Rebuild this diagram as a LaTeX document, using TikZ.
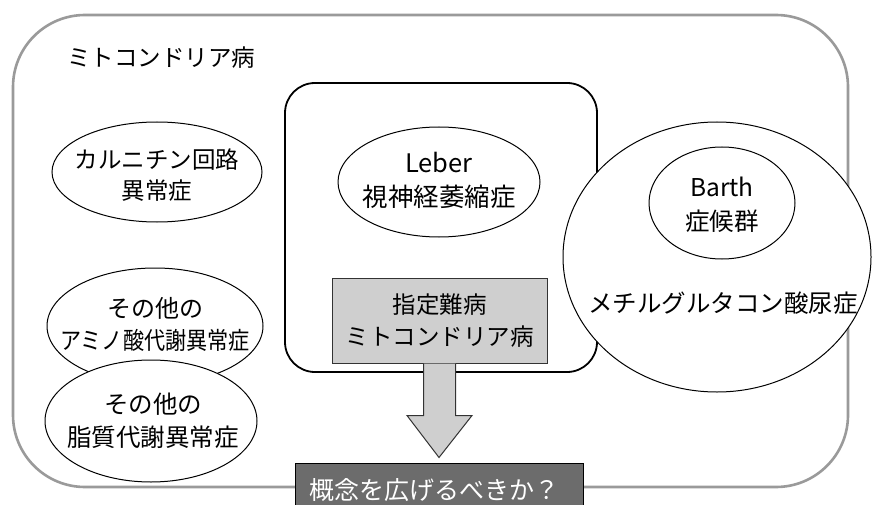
\documentclass[tikz,border=0pt]{standalone}
\usepackage{fontspec}
\usepackage{graphicx}
\setmainfont{Noto Sans CJK JP}
\usetikzlibrary{shapes.geometric,calc}
\definecolor{outergray}{HTML}{9A9A9A}
\definecolor{boxgray}{HTML}{CFCFCF}
\definecolor{darkbox}{HTML}{6C6C6C}
\begin{document}
\begin{tikzpicture}[x=1pt,y=-1pt,
  oval/.style={ellipse,draw=black,line width=1pt,fill=white,inner sep=0pt,outer sep=0pt},
  lbl/.style={inner sep=0pt,align=center,font=\fontsize{23.5}{31}\selectfont}]
\useasboundingbox (0,0) rectangle (872,505);
\clip (0,0) rectangle (872,505);
\fill[white] (0,0) rectangle (872,505);
% outer box
\node[draw=outergray,line width=2.6pt,rounded corners=72pt,minimum width=835pt,minimum height=472pt,inner sep=0pt]
  (outer) at (430.5,251) {};
\node[lbl,anchor=west] (title) at (67,58) {ミトコンドリア病};
% left ellipses
\node[oval,minimum width=210pt,minimum height=100pt] (carn) at (157,172) {};
\node[lbl] (carnt) at (157,175) {カルニチン回路\\異常症};
\node[oval,minimum width=216pt,minimum height=116pt] (amino) at (155,326) {};
\node[lbl,font=\fontsize{24}{32}\selectfont] (aminot) at (155,324) {その他の\\\scalebox{0.88}[1]{アミノ酸代謝異常症}};
\node[oval,minimum width=212pt,minimum height=122pt] (lipid) at (151,421) {};
\node[lbl,font=\fontsize{24.5}{33}\selectfont] (lipidt) at (153,421) {その他の\\脂質代謝異常症};
% inner box
\node[draw=black,line width=1.8pt,rounded corners=30pt,minimum width=312pt,minimum height=289pt,inner sep=0pt]
  (inner) at (441,227.5) {};
\node[oval,minimum width=202pt,minimum height=110pt] (leber) at (439,182) {};
\node[lbl,font=\fontsize{25.5}{34}\selectfont] (lebert) at (439,180) {Leber\\視神経萎縮症};
% big circle
\node[oval,minimum width=308pt,minimum height=270pt] (big) at (717,257) {};
\node[oval,minimum width=146pt,minimum height=112pt] (barth) at (722,203) {};
\node[lbl,font=\fontsize{24.5}{34}\selectfont] (bartht) at (722,205) {Barth\\症候群};
\node[lbl,font=\fontsize{24.5}{30}\selectfont] (methyl) at (723,303) {メチルグルタコン酸尿症};
% bottom box
\node[fill=darkbox,draw=black,line width=1pt,minimum width=288pt,minimum height=50pt,inner sep=0pt] (question) at (439,488) {};
\node[lbl,text=white,font=\fontsize{25}{30}\selectfont] (questiont) at (434,490) {概念を広げるべきか？};
% gray box
\node[fill=boxgray,draw=black!80,line width=1pt,minimum width=215pt,minimum height=85pt,inner sep=0pt,
  align=center,font=\fontsize{23.5}{32}\selectfont] (nanbyo) at (439.5,320.5) {指定難病\\ミトコンドリア病};
% block arrow
\draw[fill=boxgray,draw=black!80,line width=1pt]
  ($(nanbyo.south)+(-16,0)$) -- ($(nanbyo.south)+(-16,52)$) -- ($(nanbyo.south)+(-32.5,52)$)
  -- ($(question.north)+(0,-5)$) -- ($(nanbyo.south)+(32.5,52)$) -- ($(nanbyo.south)+(16,52)$)
  -- ($(nanbyo.south)+(16,0)$);
\end{tikzpicture}
\end{document}
